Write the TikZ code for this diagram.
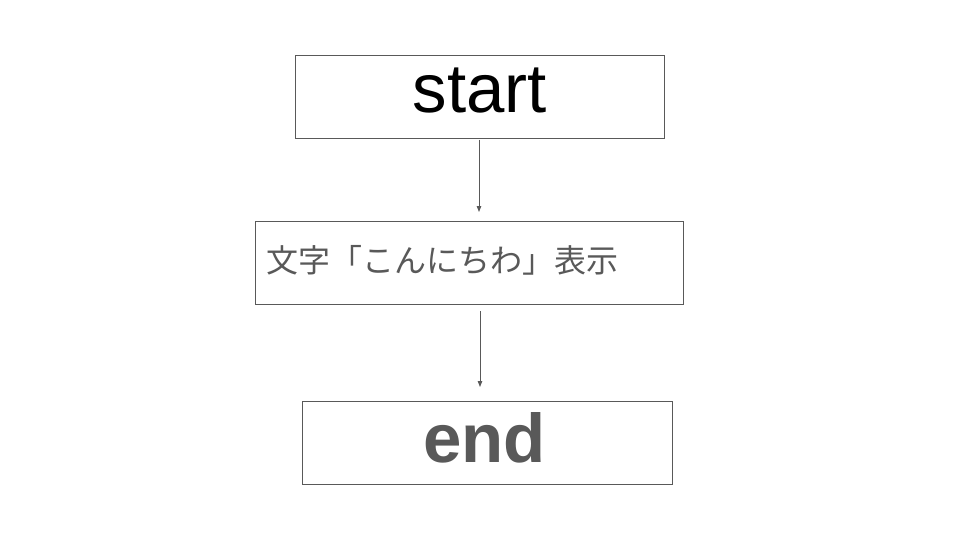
\documentclass[tikz,border=0pt]{standalone}
\usepackage{fontspec}
\setmainfont{Liberation Sans}
\newfontfamily\jpfont{Noto Sans CJK JP}
\usetikzlibrary{arrows.meta}
\definecolor{lgray}{HTML}{595959}
\tikzset{
  box/.style={draw=lgray, line width=1pt, inner sep=0pt, anchor=north west},
  conn/.style={draw=lgray, line width=0.9pt, -{Triangle[length=6pt,width=4.5pt]}}
}
\begin{document}
\begin{tikzpicture}[x=1pt,y=-1pt]
\useasboundingbox (0,0) rectangle (960,540);
\fill[white] (0,0) rectangle (960,540);
\node[box, minimum width=369pt, minimum height=83pt, text height=31pt, text depth=0pt,
      font=\fontsize{69}{69}\selectfont, text=black] (start) at (295,55) {start};
\node[box, minimum width=428pt, minimum height=83pt, text width=406pt, inner xsep=11pt, align=left,
      text height=24pt, text depth=6pt,
      font=\jpfont\fontsize{32}{32}\selectfont, text=lgray] (mid) at (255,221) {文字「こんにちわ」表示};
\node[box, minimum width=370pt, minimum height=83pt, text height=39pt, text depth=0pt,
      font=\bfseries\fontsize{69}{69}\selectfont, text=lgray] (end) at (302,401) {end\hspace*{6pt}};
\coordinate (a1s) at (479,140);
\coordinate (a1e) at (479,212);
\coordinate (a2s) at (480,311);
\coordinate (a2e) at (480,387);
\draw[conn] (a1s) -- (a1e);
\draw[conn] (a2s) -- (a2e);
\end{tikzpicture}
\end{document}
